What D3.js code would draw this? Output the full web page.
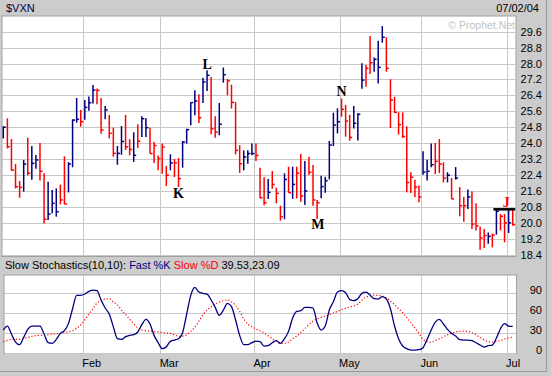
<!DOCTYPE html>
<html>
<head>
<meta charset="utf-8">
<script src="https://cdn.jsdelivr.net/npm/d3@7"></script>
<style>
body { margin: 0; background: #cccccc; }
svg { display: block; }
</style>
</head>
<body>
<script>
// daily bars, Jan 2 2004 .. Jul 2 2004 (index = trading day)
const highs = [
  24.86, 25.25, 24.21, 22.95, 22.10, 23.16, 24.28, 23.86, 23.41, 24.01,
  22.49, 22.07, 21.65, 21.73, 21.92, 23.34, 23.05, 25.20, 26.27, 25.67,
  26.17, 26.34, 26.92, 26.75, 26.27, 25.87, 25.42, 24.78, 23.86, 24.86,
  25.42, 24.20, 24.55, 24.95, 25.35, 25.25, 24.78, 24.06, 23.38, 23.98,
  22.86, 23.44, 23.21, 23.26, 24.11, 24.73, 26.05, 26.66, 26.46, 27.29,
  27.66, 27.33, 25.35, 26.02, 27.80, 27.23, 26.94, 26.07, 23.90, 23.64,
  23.64, 23.98, 23.98, 22.77, 22.29, 22.20, 22.60, 21.77, 20.86, 22.49,
  22.82, 22.82, 22.82, 23.46, 23.10, 23.32, 22.90, 21.15, 22.37, 22.32,
  24.11, 25.53, 25.75, 26.25, 25.92, 25.42, 25.87, 25.50, 28.01, 27.93,
  29.38, 28.31, 29.15, 29.88, 29.32, 27.21, 26.32, 25.55, 25.55, 24.85,
  22.54, 22.17, 21.87, 23.59, 23.17, 23.98, 24.01, 24.21, 23.04, 22.54,
  22.25, 22.80, 21.80, 21.30, 21.67, 21.58, 20.99, 19.82, 19.69, 19.52,
  19.46, 20.66, 20.44, 20.44, 20.66, 20.66
];
const lows = [
  24.24, 23.74, 22.62, 21.73, 21.26, 21.57, 22.39, 22.17, 22.72, 22.13,
  19.97, 20.14, 20.48, 20.31, 20.93, 20.93, 21.53, 22.79, 25.03, 24.83,
  25.18, 25.63, 26.00, 25.95, 24.48, 25.20, 24.24, 23.32, 22.92, 23.42,
  23.66, 23.39, 23.06, 23.76, 24.31, 24.31, 23.48, 23.01, 22.64, 22.47,
  21.85, 22.64, 22.30, 21.80, 22.77, 23.98, 24.90, 25.40, 25.02, 26.02,
  26.62, 24.45, 24.28, 24.40, 27.04, 26.41, 25.74, 23.43, 22.51, 22.64,
  22.97, 23.39, 23.11, 21.23, 20.88, 21.20, 21.71, 20.98, 20.11, 20.18,
  21.51, 21.20, 21.23, 21.06, 20.90, 22.40, 20.86, 20.19, 21.23, 21.51,
  22.18, 23.86, 24.49, 25.33, 24.33, 24.13, 24.74, 24.13, 26.74, 26.84,
  27.47, 27.59, 27.00, 29.05, 27.59, 24.76, 25.52, 24.43, 24.26, 21.53,
  21.50, 21.30, 21.03, 22.42, 22.13, 22.79, 22.45, 22.50, 22.03, 22.03,
  21.20, 22.17, 20.33, 20.06, 20.69, 19.69, 19.61, 18.65, 18.74, 18.95,
  18.77, 19.41, 19.62, 19.02, 19.49, 19.86
];
const closes = [
  24.80, 23.82, 22.65, 21.82, 21.78, 22.95, 22.49, 22.99, 23.16, 22.59,
  20.18, 20.44, 20.98, 20.56, 21.15, 20.95, 22.95, 25.16, 25.20, 25.08,
  25.80, 26.03, 26.67, 26.65, 24.66, 25.67, 24.50, 23.49, 23.49, 24.09,
  23.82, 23.69, 23.39, 24.10, 25.23, 24.78, 23.48, 23.88, 23.23, 23.81,
  22.39, 23.01, 23.01, 22.22, 24.06, 24.68, 26.04, 26.12, 25.28, 27.08,
  27.41, 24.73, 24.56, 24.95, 27.44, 27.13, 26.05, 23.64, 22.97, 23.31,
  23.48, 23.48, 23.39, 21.26, 21.01, 21.53, 21.93, 21.48, 20.31, 22.18,
  21.51, 21.93, 22.49, 21.35, 21.60, 22.54, 21.15, 21.01, 21.82, 22.12,
  23.91, 24.91, 25.08, 25.70, 25.11, 24.29, 25.00, 25.45, 27.17, 27.76,
  28.04, 28.21, 27.81, 29.32, 27.76, 26.17, 25.55, 24.93, 24.34, 22.03,
  22.29, 21.80, 21.30, 22.55, 22.59, 22.92, 23.09, 22.95, 22.25, 22.39,
  21.20, 22.25, 20.86, 20.86, 21.30, 19.94, 19.85, 19.24, 19.36, 19.32,
  19.39, 20.58, 20.33, 19.99, 20.00, 19.91
];
// 1 = up bar (blue), 0 = down bar (red)
const barUp = [
  1, 0, 0, 0, 0, 1, 0, 1, 1, 0,
  0, 1, 1, 1, 0, 0, 1, 1, 1, 0,
  1, 1, 1, 0, 0, 1, 0, 0, 1, 1,
  0, 0, 1, 0, 1, 1, 0, 0, 0, 0,
  0, 1, 0, 0, 1, 1, 1, 1, 0, 1,
  1, 0, 0, 1, 1, 0, 0, 0, 0, 1,
  1, 1, 0, 0, 0, 1, 0, 0, 0, 1,
  0, 1, 0, 0, 1, 0, 0, 0, 1, 1,
  1, 1, 1, 0, 0, 0, 1, 1, 1, 0,
  0, 1, 1, 1, 0, 0, 0, 0, 0, 0,
  0, 0, 0, 1, 1, 1, 0, 0, 0, 1,
  0, 1, 0, 0, 1, 0, 0, 0, 0, 1,
  0, 1, 0, 0, 1, 0
];
const fastK = [
  34, 40, 28, 16, 12, 23, 35, 40, 40, 40,
  28, 15, 14, 20, 29, 33, 44, 66, 86, 86,
  88, 92, 94, 93, 79, 67, 58, 39, 21, 20,
  24, 26, 27, 31, 42, 50, 43, 26, 15, 6,
  9, 17, 19, 21, 30, 58, 86, 98, 91, 89,
  88, 79, 68, 56, 64, 74, 69, 49, 26, 12,
  12, 15, 17.5, 16.5, 10, 10.5, 15, 18, 14, 21,
  32, 52, 62, 63, 68, 68, 67, 45, 34, 40,
  64, 76.5, 91, 93, 90, 80, 78, 81, 89, 91,
  86.5, 81, 80.5, 84, 80.5, 66, 40, 21, 10, 6,
  4, 4, 4.5, 7.5, 20, 34, 46, 50, 43, 35,
  29, 25, 19.5, 19, 19, 18, 15, 11.5, 8.5, 10.5,
  11.5, 22, 36, 43.5, 40, 39.53
];
const slowD = [
  16.5, 18.5, 20, 20, 20, 21.5, 23, 24.5, 25.5, 26,
  26, 27, 28, 28.5, 29, 30, 31.5, 33, 36.5, 41.5,
  49.5, 57.5, 66, 74.5, 78, 80.5, 81, 76, 72, 64,
  57.5, 50, 43.5, 37, 34, 33, 32.5, 31.5, 31, 30,
  29.5, 29, 27, 24.5, 25, 27, 32, 38.5, 47, 57,
  64, 69, 73, 76, 78, 79, 76.5, 71, 62, 51,
  43, 39, 35.5, 33, 29.5, 25.5, 21, 17, 14, 14.2,
  16, 21, 25, 30.5, 36, 42.5, 47.5, 50.5, 53, 55,
  57, 59.5, 62, 64.5, 66.8, 68.5, 70, 73, 78.5, 83.5,
  85, 86.3, 86, 84.8, 82.5, 77.5, 72, 66, 60, 52.5,
  45, 37, 29, 20, 16.5, 15.5, 18, 21, 24, 27,
  29, 31, 32, 32.3, 32, 30, 27, 23, 19.5, 16.5,
  16, 17, 18.2, 20.3, 22.3, 23.09
];
const monthNames = ["Feb", "Mar", "Apr", "May", "Jun", "Jul"];
const monthStart = [20, 39, 62, 83, 103, 124];
const priceTicks = [29.6, 28.8, 28.0, 27.2, 26.4, 25.6, 24.8, 24.0, 23.2, 22.4, 21.6, 20.8, 20.0, 19.2, 18.4];
const stochTicks = [0, 30, 60, 90];
const letters = ["L", "K", "N", "M"];
const letterIndex = [50, 43, 83, 77.2];
const letterValue = [27.73, 21.25, 26.37, 19.69];

function main(){
    let width = 551;
    let height = 376;
    let gray = "#cccccc";
    let grid = "#c8c8c8";

    let svg = d3.select("body").append("svg")
        .attr("width", width)
        .attr("height", height)
        .style("font-family", "'Liberation Sans', Arial, sans-serif");

    svg.append("rect").attr("width", width).attr("height", height).attr("fill", gray);

    let x = d3.scaleLinear().domain([0, closes.length - 1]).range([3.3, 512.7]);
    let step = x(1) - x(0);
    let y = d3.scaleLinear().domain([18.4, 29.6]).range([254.7, 31.7]);
    let ys = d3.scaleLinear().domain([0, 90]).range([352.7, 292.7]);

    // frame
    svg.append("line").attr("x1", 546.5).attr("x2", 546.5).attr("y1", 0).attr("y2", 372)
        .attr("stroke", "#9a9a9a");
    svg.append("line").attr("x1", 0).attr("x2", 547).attr("y1", 371.5).attr("y2", 371.5)
        .attr("stroke", "#9a9a9a");

    // ---- price panel
    svg.append("rect").attr("x", 2).attr("y", 16).attr("width", 514).attr("height", 240.5)
        .attr("fill", "white").attr("stroke", "#a0a0a0").attr("stroke-width", 1);

    svg.append("g").selectAll("line").data(priceTicks).enter().append("line")
        .attr("x1", 2.5).attr("x2", 515.5)
        .attr("y1", d => Math.round(y(d)) + 0.5).attr("y2", d => Math.round(y(d)) + 0.5)
        .attr("stroke", grid);

    svg.append("g").selectAll("line").data(monthStart).enter().append("line")
        .attr("x1", d => Math.round(x(d) - step / 2) + 0.5).attr("x2", d => Math.round(x(d) - step / 2) + 0.5)
        .attr("y1", 16.5).attr("y2", 256)
        .attr("stroke", grid);

    svg.append("text").attr("x", 515).attr("y", 29).attr("text-anchor", "end")
        .attr("font-size", 10.5).attr("fill", "#c4c4c4").text("\u00a9 Prophet.Net");

    svg.append("g").selectAll("text").data(priceTicks).enter().append("text")
        .attr("x", 542).attr("y", d => y(d) + 4)
        .attr("text-anchor", "end").attr("font-size", 11).attr("fill", "#000")
        .text(d => d.toFixed(1));

    svg.append("text").attr("x", 6).attr("y", 12).attr("font-size", 11).attr("fill", "#000040").text("$VXN");
    svg.append("text").attr("x", 539).attr("y", 12).attr("text-anchor", "end").attr("font-size", 11)
        .attr("fill", "#000").text("07/02/04");

    let bars = svg.append("g");
    closes.forEach(function(c, i){
        let col = barUp[i] ? "#000080" : "#ff0000";
        bars.append("line")
            .attr("x1", x(i)).attr("x2", x(i))
            .attr("y1", y(highs[i])).attr("y2", y(lows[i]))
            .attr("stroke", col).attr("stroke-width", 1.5);
        bars.append("line")
            .attr("x1", x(i)).attr("x2", x(i) + 2.5)
            .attr("y1", y(c)).attr("y2", y(c))
            .attr("stroke", col).attr("stroke-width", 1.5);
    });

    svg.append("g").selectAll("text").data(letters).enter().append("text")
        .attr("x", (d, i) => x(letterIndex[i])).attr("y", (d, i) => y(letterValue[i]))
        .attr("text-anchor", "middle")
        .attr("font-family", "'Liberation Serif', 'Times New Roman', serif")
        .attr("font-weight", "bold").attr("font-size", 14).attr("fill", "#000")
        .text(d => d);

    // J marker with resistance line
    svg.append("line").attr("x1", x(121) - 3).attr("x2", x(125) + 2.5)
        .attr("y1", y(20.68)).attr("y2", y(20.68))
        .attr("stroke", "#000").attr("stroke-width", 2.5);
    svg.append("text").attr("x", x(123.4)).attr("y", y(20.8))
        .attr("text-anchor", "middle")
        .attr("font-family", "'Liberation Serif', 'Times New Roman', serif")
        .attr("font-weight", "bold").attr("font-size", 14).attr("fill", "#ff0000")
        .text("J");

    // ---- stochastics panel
    svg.append("rect").attr("x", 4).attr("y", 275).attr("width", 512.5).attr("height", 78.5)
        .attr("fill", "white").attr("stroke", "#a0a0a0").attr("stroke-width", 1);

    svg.append("g").selectAll("line").data(stochTicks).enter().append("line")
        .attr("x1", 4.5).attr("x2", 516)
        .attr("y1", d => Math.round(ys(d)) + 0.5).attr("y2", d => Math.round(ys(d)) + 0.5)
        .attr("stroke", grid);

    svg.append("g").selectAll("line").data(monthStart).enter().append("line")
        .attr("x1", d => Math.round(x(d) - step / 2) + 0.5).attr("x2", d => Math.round(x(d) - step / 2) + 0.5)
        .attr("y1", 275.5).attr("y2", 353)
        .attr("stroke", grid);

    svg.append("g").selectAll("text").data(stochTicks).enter().append("text")
        .attr("x", 542).attr("y", d => ys(d) + 1)
        .attr("text-anchor", "end").attr("font-size", 11).attr("fill", "#000")
        .text(d => d);

    let lineD = d3.line().x((d, i) => x(i)).y(d => ys(d)).curve(d3.curveMonotoneX);
    svg.append("path").attr("d", lineD(slowD)).attr("fill", "none")
        .attr("stroke", "#ff0000").attr("stroke-width", 1.2).attr("stroke-dasharray", "1.2,2");
    svg.append("path").attr("d", lineD(fastK)).attr("fill", "none")
        .attr("stroke", "#000080").attr("stroke-width", 1.3);

    let head = svg.append("text").attr("x", 5).attr("y", 269).attr("font-size", 11);
    head.append("tspan").attr("fill", "#000").text("Slow Stochastics(10,10):  ");
    head.append("tspan").attr("fill", "#000080").text("Fast %K ");
    head.append("tspan").attr("fill", "#ff0000").text("Slow %D ");
    head.append("tspan").attr("fill", "#000")
        .text(fastK[fastK.length - 1].toFixed(2) + "," + slowD[slowD.length - 1].toFixed(2));

    svg.append("g").selectAll("text").data(monthNames).enter().append("text")
        .attr("x", (d, i) => x(monthStart[i]) - step / 2 - 0.5).attr("y", 367)
        .attr("font-size", 11).attr("fill", "#000")
        .text(d => d);
}

main();
</script>
</body>
</html>
